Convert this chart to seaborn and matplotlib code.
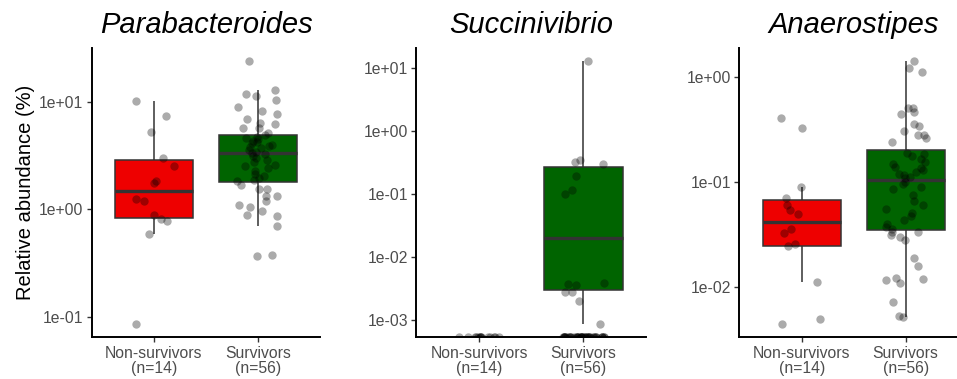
import numpy as np
import pandas as pd
import matplotlib
matplotlib.use("Agg")
import matplotlib.pyplot as plt
import seaborn as sns
from matplotlib.ticker import LogLocator, FuncFormatter, NullLocator

# ---- data -------------------------------------------------------------
groups = ["Non-survivors", "Survivors"]
group_labels = ["Non-survivors\n(n=14)", "Survivors\n(n=56)"]
genera = ["Parabacteroides", "Succinivibrio", "Anaerostipes"]
box_colors = {"Non-survivors": "#EE0000", "Survivors": "#006400"}

# relative abundance (%) per patient
parabacteroides_ns = [10.1, 7.4, 5.2, 2.98, 2.52, 1.85, 1.76, 1.24, 1.19,
                      0.887, 0.814, 0.78, 0.593, 0.086]
parabacteroides_s = [23.7, 12.8, 11.8, 11.3, 10.3, 8.87, 8.25, 7.69, 6.92,
                     6.40, 6.22, 5.75, 5.72, 5.1,
                     4.9, 4.75, 4.6, 4.5, 4.35, 4.2, 4.1, 4.0, 3.9, 3.8,
                     3.7, 3.55, 3.45, 3.38, 3.3, 3.15, 3.0, 2.9, 2.75, 2.6,
                     2.55, 2.45, 2.3, 2.15, 2.05, 1.95, 1.86, 1.82,
                     1.68, 1.55, 1.54, 1.33, 1.33, 1.19, 1.09, 1.05, 0.97,
                     0.88, 0.867, 0.70, 0.375, 0.366]

succinivibrio_ns = [0, 0, 0, 0, 0, 0, 0, 0, 0, 0, 0, 0, 0, 0]
succinivibrio_s = [12.6, 0.348, 0.324, 0.301, 0.19, 0.116, 0.100,
                   0.0038, 0.0037, 0.0036, 0.0028, 0.00275, 0.00199, 0.00085,
                   0, 0, 0, 0, 0, 0, 0, 0, 0, 0, 0, 0, 0, 0,
                   0, 0, 0, 0, 0, 0, 0, 0, 0, 0, 0, 0, 0, 0,
                   0, 0, 0, 0, 0, 0, 0, 0, 0, 0, 0, 0, 0, 0]

anaerostipes_ns = [0.41, 0.324, 0.089, 0.070, 0.060, 0.0537, 0.0489, 0.0357,
                   0.0327, 0.0255, 0.0244, 0.011, 0.00492, 0.00438]
anaerostipes_s = [1.41, 1.21, 1.13, 0.503, 0.503, 0.468, 0.444, 0.36, 0.339,
                  0.306, 0.28, 0.278, 0.263, 0.242,
                  0.19, 0.185, 0.175, 0.165, 0.155, 0.148, 0.14, 0.135, 0.13,
                  0.125, 0.12, 0.115, 0.112, 0.109, 0.100, 0.095, 0.090,
                  0.085, 0.075, 0.066, 0.060, 0.055, 0.050, 0.047, 0.043,
                  0.040, 0.037, 0.0354,
                  0.0335, 0.0329, 0.031, 0.0295, 0.0276, 0.0189, 0.0157,
                  0.0122, 0.0119, 0.0115, 0.0108, 0.0071, 0.0052, 0.0051]

panel_data = {
    "Parabacteroides": (parabacteroides_ns, parabacteroides_s),
    "Succinivibrio": (succinivibrio_ns, succinivibrio_s),
    "Anaerostipes": (anaerostipes_ns, anaerostipes_s),
}

# ---- style ------------------------------------------------------------
sns.set_theme(style="white")
plt.rcParams["font.family"] = ["Liberation Sans", "DejaVu Sans"]

W, H = 957, 379
fig = plt.figure(figsize=(W / 100, H / 100), dpi=100)

# axes boxes in pixels: (left, right); shared bottom/top
panel_px = [(91.6, 320.4), (416.4, 646.0), (739.3, 968.0)]
top_px, bottom_px = 48.3, 337.3

fmt = FuncFormatter(lambda v, p: f"{v:.0e}")

for i, genus in enumerate(genera):
    left, right = panel_px[i]
    ax = fig.add_axes([left / W, 1 - bottom_px / H, (right - left) / W,
                       (bottom_px - top_px) / H])
    ns, sv = panel_data[genus]
    df = pd.DataFrame({
        "group": [groups[0]] * len(ns) + [groups[1]] * len(sv),
        "abundance": np.array(list(ns) + list(sv), dtype=float),
    })
    pos = df[df["abundance"] > 0]

    # log-scale limits with a 5% margin on the observed (positive) range
    lo, hi = np.log10(pos["abundance"].min()), np.log10(pos["abundance"].max())
    pad = 0.05 * (hi - lo)
    ymin, ymax = 10 ** (lo - pad), 10 ** (hi + pad)

    sns.boxplot(data=pos, x="group", y="abundance", hue="group",
                order=groups, hue_order=groups, palette=box_colors,
                saturation=1, width=0.75, showfliers=False, showcaps=False,
                linewidth=1.1, linecolor="#333333",
                medianprops={"linewidth": 2.4},
                log_scale=True, legend=False, ax=ax)

    # zero abundances sit on the lower edge of the panel
    strip = df.copy()
    strip["abundance"] = np.where(strip["abundance"] > 0,
                                  strip["abundance"], ymin)
    np.random.seed(7 + i)
    sns.stripplot(data=strip, x="group", y="abundance", order=groups,
                  color="black", alpha=0.33, size=6, jitter=0.2,
                  linewidth=0, log_scale=True, zorder=4, ax=ax)

    ax.set_ylim(ymin, ymax)
    ax.set_xlim(-0.6, 1.6)
    ax.yaxis.set_major_locator(LogLocator(base=10, numticks=15))
    ax.yaxis.set_minor_locator(NullLocator())
    ax.yaxis.set_major_formatter(fmt)
    ax.set_xticks([0, 1])
    ax.set_xticklabels(group_labels, linespacing=1.05)

    for side in ("top", "right"):
        ax.spines[side].set_visible(False)
    for side in ("left", "bottom"):
        ax.spines[side].set_color("black")
        ax.spines[side].set_linewidth(1.4)
    ax.tick_params(axis="both", which="major", direction="out", length=3.6,
                   width=1.0, color="#333333", labelcolor="#4D4D4D",
                   labelsize=11.3, pad=2.5, bottom=True, left=True)
    ax.set_xlabel("")
    ax.set_ylabel("")
    ax.set_title(genus, fontsize=21, fontstyle="italic", pad=10.8,
                 color="black")
    ax.set_facecolor("white")
    if i == 0:
        ax.set_ylabel("Relative abundance (%)", fontsize=14.5, labelpad=3,
                      color="black")

fig.savefig("out.png", dpi=100, facecolor="white")
